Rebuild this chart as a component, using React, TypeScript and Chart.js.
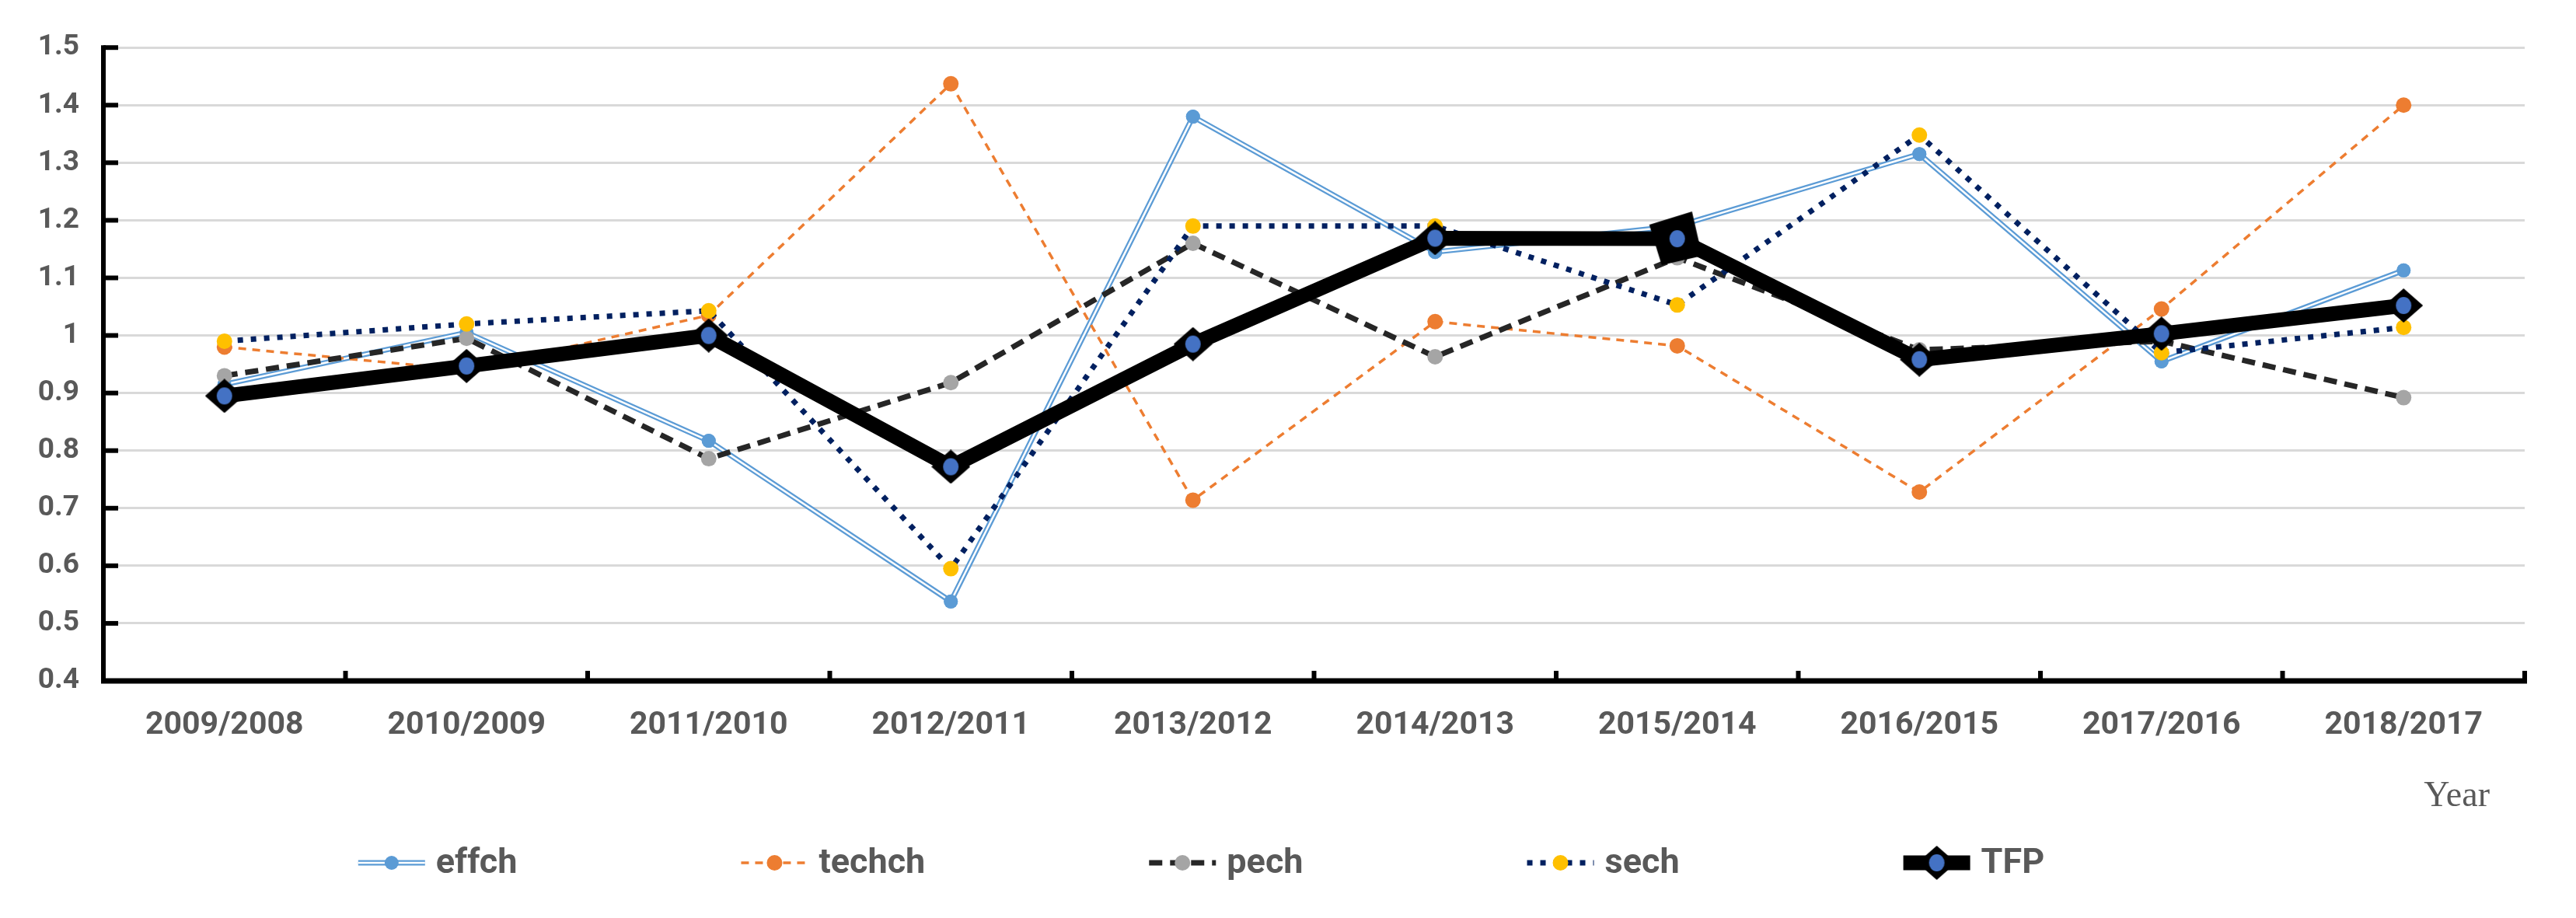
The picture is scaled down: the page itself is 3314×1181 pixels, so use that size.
import React, { useEffect, useRef } from 'react';
import { Chart, registerables } from 'chart.js';

Chart.register(...registerables);

const categories = ['2009/2008', '2010/2009', '2011/2010', '2012/2011', '2013/2012', '2014/2013', '2015/2014', '2016/2015', '2017/2016', '2018/2017'];
const effch = [0.915, 1.005, 0.817, 0.538, 1.38, 1.145, 1.19, 1.315, 0.955, 1.113];
const techch = [0.98, 0.94, 1.035, 1.437, 0.714, 1.024, 0.982, 0.728, 1.046, 1.4];
const pech = [0.93, 0.995, 0.786, 0.918, 1.16, 0.963, 1.135, 0.975, 0.99, 0.892];
const sech = [0.99, 1.02, 1.043, 0.595, 1.19, 1.19, 1.053, 1.348, 0.97, 1.014];
const tfp = [0.895, 0.947, 1.0, 0.772, 0.985, 1.169, 1.168, 0.958, 1.003, 1.052];
const seriesNames = ['effch', 'techch', 'pech', 'sech', 'TFP'];
const yMin = 0.4;
const yMax = 1.5;
const yStep = 0.1;
const xTitle = 'Year';

const TEXT = '#595959';

function makeDiamond(w: number, h: number): HTMLCanvasElement {
  const c = document.createElement('canvas');
  c.width = w;
  c.height = h;
  const g = c.getContext('2d')!;
  g.fillStyle = '#000';
  g.beginPath();
  g.moveTo(w / 2, 0);
  g.lineTo(w, h / 2);
  g.lineTo(w / 2, h);
  g.lineTo(0, h / 2);
  g.closePath();
  g.fill();
  g.fillStyle = '#4472C4';
  g.beginPath();
  g.ellipse(w / 2, h / 2, 10, 11, 0, 0, Math.PI * 2);
  g.fill();
  return c;
}

function makeBigMarker(): HTMLCanvasElement {
  const c = document.createElement('canvas');
  c.width = 76;
  c.height = 76;
  const g = c.getContext('2d')!;
  g.fillStyle = '#000';
  g.translate(38, 38);
  g.beginPath();
  g.moveTo(19, -35);
  g.lineTo(32, 22);
  g.lineTo(-20, 34);
  g.lineTo(-36, -18);
  g.closePath();
  g.fill();
  g.fillStyle = '#4472C4';
  g.beginPath();
  g.ellipse(0, 0, 10, 11, 0, 0, Math.PI * 2);
  g.fill();
  return c;
}

const decorPlugin = {
  id: 'decor',
  beforeDatasetsDraw(chart: any) {
    const { ctx, chartArea: a, scales } = chart;
    const x = scales.x;
    const y = scales.y;
    ctx.save();
    ctx.strokeStyle = '#000';
    ctx.lineCap = 'butt';
    ctx.setLineDash([]);
    ctx.lineWidth = 6;
    y.ticks.forEach((_t: any, i: number) => {
      const py = y.getPixelForTick(i);
      ctx.beginPath();
      ctx.moveTo(a.left, py);
      ctx.lineTo(a.left + 19, py);
      ctx.stroke();
    });
    for (let i = 1; i <= categories.length; i++) {
      const px = x.getPixelForValue(i - 0.5);
      ctx.beginPath();
      ctx.moveTo(px, a.bottom);
      ctx.lineTo(px, a.bottom - 13);
      ctx.stroke();
    }
    ctx.lineWidth = 6;
    ctx.beginPath();
    ctx.moveTo(a.left, a.top - 3);
    ctx.lineTo(a.left, a.bottom + 3);
    ctx.stroke();
    ctx.lineWidth = 7;
    ctx.beginPath();
    ctx.moveTo(a.left - 3, a.bottom);
    ctx.lineTo(a.right + 3, a.bottom);
    ctx.stroke();
    ctx.restore();
  },
  afterDatasetDraw(chart: any, args: any) {
    if (args.index !== 0) return;
    const meta = chart.getDatasetMeta(0);
    const ctx = chart.ctx;
    ctx.save();
    ctx.strokeStyle = '#ffffff';
    ctx.lineWidth = 2.5;
    ctx.setLineDash([]);
    ctx.beginPath();
    meta.data.forEach((p: any, i: number) => {
      if (i === 0) ctx.moveTo(p.x, p.y);
      else ctx.lineTo(p.x, p.y);
    });
    ctx.stroke();
    ctx.restore();
    meta.data.forEach((p: any) => p.draw(ctx, chart.chartArea));
  },
  afterDraw(chart: any) {
    const { ctx, chartArea: a } = chart;
    ctx.save();
    ctx.font = '46px "Liberation Serif"';
    ctx.fillStyle = TEXT;
    ctx.textAlign = 'right';
    ctx.textBaseline = 'middle';
    ctx.fillText(xTitle, a.right - 45, 1017);

    const ly = 1102;
    const symW = 86;
    const gapT = 14;
    const gapI = 288;
    ctx.font = 'bold 45px Roboto';
    const ds = chart.data.datasets;
    const widths = ds.map((d: any) => symW + gapT + ctx.measureText(d.label).width);
    const total = widths.reduce((s: number, w: number) => s + w, 0) + gapI * (ds.length - 1);
    let cx = (a.left + a.right) / 2 - 145 - total / 2;
    ds.forEach((d: any, i: number) => {
      ctx.save();
      ctx.strokeStyle = d.borderColor;
      ctx.lineWidth = d.borderWidth;
      ctx.setLineDash(d.borderDash || []);
      ctx.beginPath();
      ctx.moveTo(cx, ly);
      ctx.lineTo(cx + symW, ly);
      ctx.stroke();
      if (i === 0) {
        ctx.strokeStyle = '#fff';
        ctx.lineWidth = 2.5;
        ctx.beginPath();
        ctx.moveTo(cx, ly);
        ctx.lineTo(cx + symW, ly);
        ctx.stroke();
      }
      ctx.setLineDash([]);
      const mx = cx + symW / 2;
      const ps = Array.isArray(d.pointStyle) ? d.pointStyle[0] : d.pointStyle;
      if (ps && typeof ps !== 'string') {
        ctx.drawImage(ps, mx - ps.width / 2, ly - ps.height / 2);
      } else {
        ctx.fillStyle = d.pointBackgroundColor;
        ctx.beginPath();
        ctx.arc(mx, ly, d.pointRadius, 0, Math.PI * 2);
        ctx.fill();
      }
      ctx.restore();
      ctx.fillStyle = TEXT;
      ctx.textAlign = 'left';
      ctx.textBaseline = 'middle';
      ctx.font = 'bold 45px Roboto';
      ctx.fillText(d.label, cx + symW + gapT, ly + 2);
      cx += widths[i] + gapI;
    });
    ctx.restore();
  },
};

export default function App() {
  const ref = useRef<HTMLCanvasElement | null>(null);
  useEffect(() => {
    if (!ref.current) return;
    const diamond = makeDiamond(50, 44);
    const big = makeBigMarker();
    const tfpStyles = tfp.map((_v, i) => (i === 6 ? big : diamond));
    const chart = new Chart(ref.current, {
      type: 'line',
      data: {
        labels: categories,
        datasets: [
          {
            label: seriesNames[0],
            data: effch,
            borderColor: '#5B9BD5',
            borderWidth: 7,
            pointRadius: 9,
            pointBackgroundColor: '#5B9BD5',
            pointBorderColor: '#5B9BD5',
            pointBorderWidth: 0,
            tension: 0,
            order: 5,
          },
          {
            label: seriesNames[1],
            data: techch,
            borderColor: '#ED7D31',
            borderWidth: 3.5,
            borderDash: [10, 8],
            pointRadius: 10,
            pointBackgroundColor: '#ED7D31',
            pointBorderColor: '#ED7D31',
            pointBorderWidth: 0,
            tension: 0,
            order: 4,
          },
          {
            label: seriesNames[2],
            data: pech,
            borderColor: '#262626',
            borderWidth: 7,
            borderDash: [17, 10],
            pointRadius: 10,
            pointBackgroundColor: '#A5A5A5',
            pointBorderColor: '#A5A5A5',
            pointBorderWidth: 0,
            tension: 0,
            order: 3,
          },
          {
            label: seriesNames[3],
            data: sech,
            borderColor: '#002060',
            borderWidth: 7,
            borderDash: [7, 10],
            pointRadius: 10,
            pointBackgroundColor: '#FFC000',
            pointBorderColor: '#FFC000',
            pointBorderWidth: 0,
            tension: 0,
            order: 2,
          },
          {
            label: seriesNames[4],
            data: tfp,
            borderColor: '#000000',
            borderWidth: 19,
            pointStyle: tfpStyles as any,
            pointRadius: 24,
            pointBackgroundColor: '#4472C4',
            pointBorderColor: '#000000',
            tension: 0,
            order: 1,
          },
        ],
      },
      options: {
        responsive: false,
        animation: false,
        devicePixelRatio: 1,
        layout: { padding: { top: 41, right: 58, left: 0, bottom: 0 } },
        plugins: {
          legend: { display: false },
          tooltip: { enabled: false },
          title: { display: false },
        },
        scales: {
          x: {
            type: 'category',
            offset: true,
            grid: { display: false, drawTicks: false },
            border: { display: false },
            ticks: {
              color: TEXT,
              font: { family: 'Roboto', size: 41, weight: 'bold' },
              padding: 33,
              maxRotation: 0,
              autoSkip: false,
            },
            afterFit: (s: any) => {
              s.height = 297;
            },
          },
          y: {
            min: yMin,
            max: yMax,
            grid: { color: '#d9d9d9', lineWidth: 3, drawTicks: false },
            border: { display: false },
            ticks: {
              stepSize: yStep,
              color: TEXT,
              font: { family: 'Roboto', size: 37, weight: 'bold' },
              padding: 31,
              callback: (v: any) => String(Number(Number(v).toFixed(1))),
            },
            afterFit: (s: any) => {
              s.width = 125;
            },
          },
        },
      },
      plugins: [decorPlugin],
    });
    return () => chart.destroy();
  }, []);
  return (
    <div style={{ width: 3298, height: 1165 }}>
      <canvas ref={ref} width={3298} height={1165} style={{ display: 'block' }} />
    </div>
  );
}
